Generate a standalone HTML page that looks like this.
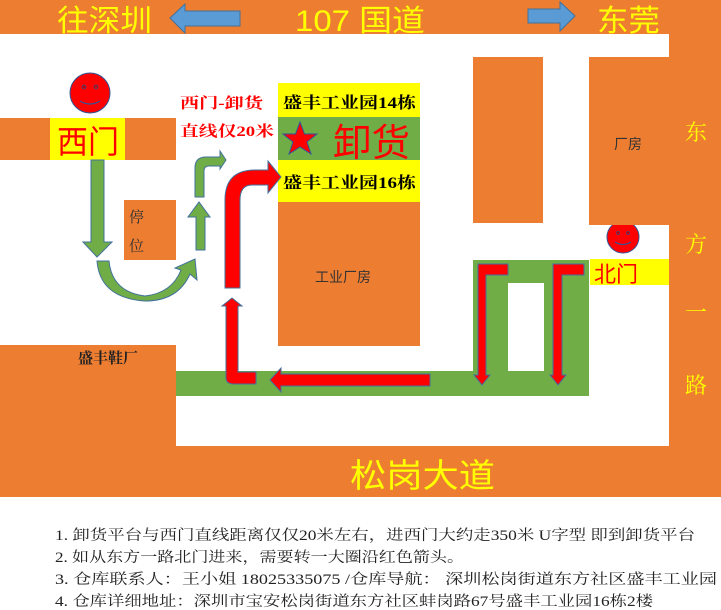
<!DOCTYPE html>
<html><head><meta charset="utf-8"><style>
body{margin:0;background:#fff;}
svg{display:block;}
text{font-family:"Liberation Serif","Noto Serif CJK SC","Noto Sans CJK SC",serif;}
.s{font-family:"Liberation Sans","Noto Sans CJK SC",sans-serif;}
</style></head><body>
<svg width="721" height="610" viewBox="0 0 721 610" xmlns="http://www.w3.org/2000/svg">
<rect width="721" height="610" fill="#fff"/>
<rect x="0" y="0" width="721" height="34" fill="#ed7d31"/>
<rect x="669" y="0" width="52" height="497" fill="#ed7d31"/>
<rect x="0" y="446" width="721" height="51" fill="#ed7d31"/>
<rect x="0" y="345" width="176" height="152" fill="#ed7d31"/>
<rect x="0" y="118" width="176" height="42" fill="#ffff00"/>
<rect x="0" y="118" width="50" height="42" fill="#ed7d31"/>
<rect x="125" y="118" width="51" height="42" fill="#ed7d31"/>
<text x="57" y="153" font-size="32" fill="#ff0000" class="s" textLength="62" lengthAdjust="spacingAndGlyphs">西门</text>
<text x="57" y="31" font-size="30" fill="#ffff00" class="s" textLength="95" lengthAdjust="spacingAndGlyphs">往深圳</text>
<text x="295" y="31" font-size="30" fill="#ffff00" class="s" textLength="130" lengthAdjust="spacingAndGlyphs">107 国道</text>
<text x="597" y="31" font-size="30" fill="#ffff00" class="s" textLength="63" lengthAdjust="spacingAndGlyphs">东莞</text>
<polygon points="170,18 185,4 185,11 240,11 240,26 185,26 185,33" fill="#5b9bd5" stroke="#41719c" stroke-width="1"/>
<polygon points="575,16 560,2 560,9 528,9 528,23 560,23 560,31" fill="#5b9bd5" stroke="#41719c" stroke-width="1"/>
<g font-size="22" fill="#ffff00" class="s" text-anchor="middle">
<text x="696" y="140">东</text><text x="696" y="252">方</text><text x="696" y="320">一</text><text x="696" y="393">路</text></g>
<ellipse cx="90" cy="93" rx="20" ry="20" fill="#ff0000" stroke="#2f5597" stroke-width="1"/>
<circle cx="84" cy="87" r="2" fill="#c00000" stroke="#2f5597" stroke-width="0.7"/><circle cx="96" cy="87" r="2" fill="#c00000" stroke="#2f5597" stroke-width="0.7"/>
<path d="M80 101 Q90 107 100 101" stroke="#2f5597" fill="none" stroke-width="1.2"/>
<circle cx="623" cy="237" r="16" fill="#ff0000" stroke="#2f5597" stroke-width="1"/>
<circle cx="618" cy="233" r="1.6" fill="#c00000" stroke="#2f5597" stroke-width="0.6"/><circle cx="628" cy="233" r="1.6" fill="#c00000" stroke="#2f5597" stroke-width="0.6"/>
<path d="M615 242 Q623 247 631 242" stroke="#2f5597" fill="none" stroke-width="1.2"/>
<rect x="124" y="200" width="52" height="60" fill="#ed7d31"/>
<text x="129" y="222" font-size="15" fill="#333">停</text>
<text x="129" y="251" font-size="15" fill="#333">位</text>
<rect x="278" y="83" width="142" height="34" fill="#ffff00"/>
<rect x="278" y="117" width="142" height="43" fill="#70ad47"/>
<rect x="278" y="160" width="142" height="42" fill="#ffff00"/>
<rect x="278" y="202" width="142" height="144" fill="#ed7d31"/>
<text x="283" y="108" font-size="16" font-weight="bold" fill="#000" textLength="133" lengthAdjust="spacingAndGlyphs">盛丰工业园14栋</text>
<text x="283" y="188" font-size="16" font-weight="bold" fill="#000" textLength="133" lengthAdjust="spacingAndGlyphs">盛丰工业园16栋</text>
<text x="333" y="156" font-size="38" fill="#ff0000" class="s" textLength="77" lengthAdjust="spacingAndGlyphs">卸货</text>
<polygon points="300,122 304.5,134 317,134 307,142 311,154 300,147 289,154 293,142 283,134 295.5,134" fill="#ff0000" stroke="#2f5597" stroke-width="1"/>
<text x="315" y="282" font-size="14" fill="#333" class="s">工业厂房</text>
<text x="180" y="108" font-size="15" font-weight="bold" fill="#ff0000" textLength="83" lengthAdjust="spacingAndGlyphs">西门-卸货</text>
<text x="180" y="136" font-size="15" font-weight="bold" fill="#ff0000" textLength="94" lengthAdjust="spacingAndGlyphs">直线仅20米</text>
<rect x="473" y="57" width="70" height="166" fill="#ed7d31"/>
<rect x="589" y="57" width="80" height="168" fill="#ed7d31"/>
<text x="614" y="149" font-size="14" fill="#333" class="s">厂房</text>
<rect x="590" y="259" width="79" height="26" fill="#ffff00"/>
<text x="594" y="282" font-size="22" fill="#ff0000" class="s">北门</text>
<rect x="473" y="260" width="116" height="136" fill="#70ad47"/>
<rect x="508" y="283" width="36" height="89" fill="#fff"/>
<rect x="176" y="371" width="413" height="25" fill="#70ad47"/>
<text x="78" y="363" font-size="15" font-weight="bold" fill="#222">盛丰鞋厂</text>
<polygon points="91,160 104,160 104,242 112,242 97,257 83,242 91,242" fill="#70ad47" stroke="#41719c" stroke-width="1"/>
<polygon points="196,250 196,217 188,217 199,202 210,217 205,217 205,250" fill="#70ad47" stroke="#41719c" stroke-width="1"/>
<path d="M195 197 L195 168 Q195 157 206 157 L220 157 L220 151 L226 160 L220 169 L220 166 L209 166 Q204 166 204 171 L204 197 Z" fill="#70ad47" stroke="#41719c" stroke-width="1"/>
<path d="M97 261 L109 261 Q112 292 145 296 Q172 293 181 270 L175 268 L195 259 L197 280 L190 274 Q178 301 145 301 Q100 298 97 261 Z" fill="#70ad47" stroke="#41719c" stroke-width="1"/>
<path d="M225 288 L225 200 Q225 170 255 170 L268 170 L268 161 L281 177 L268 193 L268 185 L252 185 Q240 185 240 200 L240 288 Z" fill="#ff0000" stroke="#41719c" stroke-width="1"/>
<path d="M226 378 L226 306 L222 306 L232 298 L242 306 L238 306 L238 372 L256 372 L256 384 L234 384 Q226 384 226 378 Z" fill="#ff0000" stroke="#41719c" stroke-width="1"/>
<polygon points="430,374 281,374 281,368 270,380 281,392 281,386 430,386" fill="#ff0000" stroke="#41719c" stroke-width="1"/>
<polygon points="478,264 508,264 508,275 486,275 486,375 490,375 482,385 474,375 478,375" fill="#ff0000" stroke="#41719c" stroke-width="1"/>
<polygon points="553,264 584,264 584,275 562,275 562,375 566,375 558,385 550,375 553,375" fill="#ff0000" stroke="#41719c" stroke-width="1"/>
<text x="350" y="487" font-size="33" fill="#ffff00" class="s" textLength="145" lengthAdjust="spacingAndGlyphs">松岗大道</text>
<g font-size="14.5" fill="#222" class="s">
<text x="55" y="540" textLength="640" lengthAdjust="spacingAndGlyphs">1.  卸货平台与西门直线距离仅仅20米左右，进西门大约走350米 U字型 即到卸货平台</text>
<text x="55" y="562" textLength="409" lengthAdjust="spacingAndGlyphs">2.  如从东方一路北门进来，需要转一大圈沿红色箭头。</text>
<text x="55" y="584" textLength="662" lengthAdjust="spacingAndGlyphs">3.  仓库联系人：王小姐 18025335075  /仓库导航：  深圳松岗街道东方社区盛丰工业园</text>
<text x="55" y="606" textLength="598" lengthAdjust="spacingAndGlyphs">4.  仓库详细地址：深圳市宝安松岗街道东方社区蚌岗路67号盛丰工业园16栋2楼</text>
</g>
</svg>
</body></html>
